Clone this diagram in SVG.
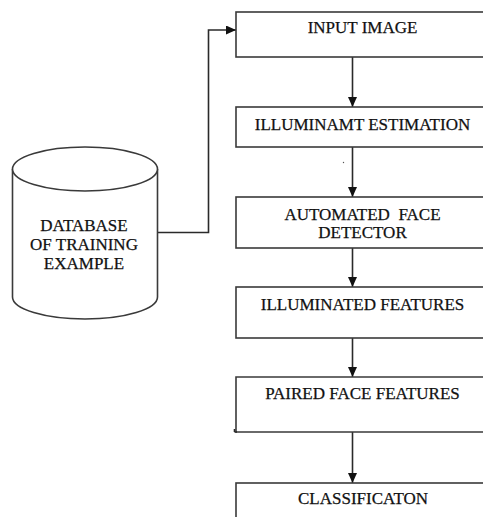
<svg xmlns="http://www.w3.org/2000/svg" width="483" height="517" viewBox="0 0 483 517">
  <defs>
    <marker id="arrow" viewBox="0 0 10 10" refX="10" refY="5" markerWidth="10" markerHeight="9" markerUnits="userSpaceOnUse" orient="auto" preserveAspectRatio="none">
      <path d="M0,0 L10,5 L0,10 Z" fill="#111"/>
    </marker>
    <style>
      .box { fill: #fff; stroke: #3a3a3a; stroke-width: 1.6; }
      .line { fill: none; stroke: #2a2a2a; stroke-width: 1.6; }
      .label { font-family: "Liberation Serif", "Times New Roman", serif; font-size: 17px; fill: #111; stroke: #111; stroke-width: 0.25; text-anchor: middle; }
    </style>
  </defs>
  <rect width="483" height="517" fill="#fff"/>

  <!-- connectors -->
  <g id="connectors">
    <path class="line" d="M157,232.5 H208.5 V30 H236" marker-end="url(#arrow)"/>
    <path class="line" d="M352.5,57 V107" marker-end="url(#arrow)"/>
    <path class="line" d="M352.5,147 V197" marker-end="url(#arrow)"/>
    <path class="line" d="M352.5,248 V287" marker-end="url(#arrow)"/>
    <path class="line" d="M352.5,338 V377" marker-end="url(#arrow)"/>
    <path class="line" d="M352.5,432 V483" marker-end="url(#arrow)"/>
    <circle cx="343.5" cy="162.5" r="0.7" fill="#555"/>
  </g>

  <!-- database cylinder -->
  <g id="database">
    <path class="box" d="M12.5,169 V297 A72.5,22 0 0 0 157.5,297 V169"/>
    <ellipse class="box" cx="85" cy="169" rx="72.5" ry="22"/>
    <text class="label" x="84" y="231">DATABASE</text>
    <text class="label" x="84" y="250">OF TRAINING</text>
    <text class="label" x="84" y="269">EXAMPLE</text>
  </g>

  <g id="input-image">
    <rect class="box" x="236" y="12" width="260" height="45"/>
    <text class="label" x="362.5" y="33">INPUT IMAGE</text>
  </g>

  <g id="illuminant-estimation">
    <rect class="box" x="236" y="107" width="260" height="40"/>
    <text class="label" x="362.5" y="130">ILLUMINAMT ESTIMATION</text>
  </g>

  <g id="face-detector">
    <rect class="box" x="236" y="197" width="260" height="51"/>
    <text class="label" x="362.5" y="220" xml:space="preserve">AUTOMATED  FACE</text>
    <text class="label" x="362.5" y="238">DETECTOR</text>
  </g>

  <g id="illuminated-features">
    <rect class="box" x="236" y="287" width="260" height="51"/>
    <text class="label" x="362.5" y="310">ILLUMINATED FEATURES</text>
  </g>

  <g id="paired-face-features">
    <path class="box" d="M496,377 H236 V432 H496"/>
    <path class="line" d="M234.5,432 H237 M234.5,429 V432"/>
    <text class="label" x="362.5" y="399">PAIRED FACE FEATURES</text>
  </g>

  <g id="classification">
    <rect class="box" x="236" y="483" width="260" height="50"/>
    <text class="label" x="363" y="504">CLASSIFICATON</text>
  </g>
</svg>
